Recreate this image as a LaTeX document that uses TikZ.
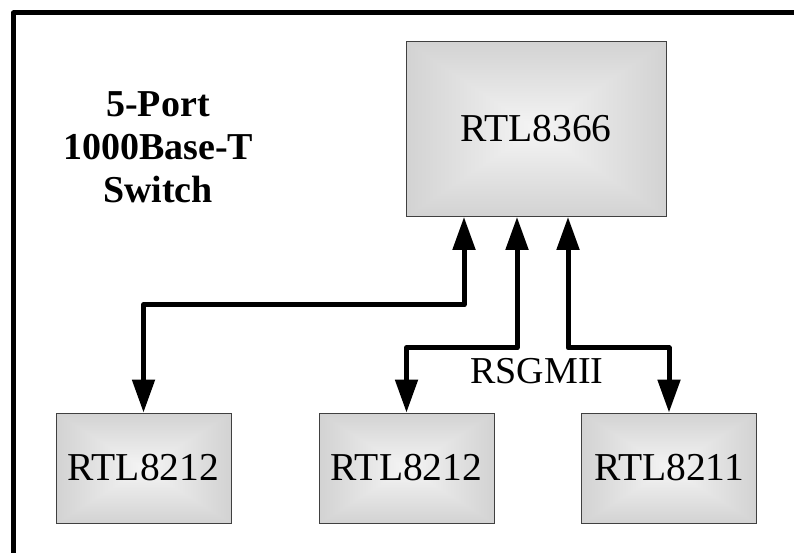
\documentclass[tikz,border=0pt]{standalone}
\usepackage{fontspec}
\setmainfont{Liberation Serif}
\usepackage{tikz}
\usetikzlibrary{arrows.meta, calc, positioning}

% light centre, grey rim, like a pillow
\pgfdeclarefunctionalshading{chipshade}{\pgfpoint{-50bp}{-50bp}}{\pgfpoint{50bp}{50bp}}{}{
  abs exch abs 2 copy lt {exch} if pop 50 div
  -0.27 mul 0.96 add dup dup
}

\tikzset{
  chip/.style={draw=black!75, line width=0.8pt, shading=chipshade, inner sep=0,
    font=\fontsize{39.5}{40}\selectfont},
  phy/.style={chip, minimum width=175pt, minimum height=110pt},
  link/.style={line width=5pt, line join=round,
    {Triangle[width=22pt,length=33pt]}-{Triangle[width=22pt,length=33pt]}},
}

\begin{document}
\begin{tikzpicture}[x=1pt, y=-1pt]
      \useasboundingbox (0,0) rectangle (794,553);
      \draw [line width=5pt, line join=round] (13.5,560) -- (13.5,13) -- (800,13);

      \node [font=\bfseries\fontsize{38}{43}\selectfont, align=center] (title) at (158,147)
        {5-Port\\1000Base-T\\Switch};

      \node [chip, minimum width=260pt, minimum height=175pt] (switch) at (536,129) {RTL8366};

      \node [phy] (phyA) at (143.5,468) {RTL8212};
      \node [phy] (phyB) at (406.5,468) {RTL8212};
      \node [phy] (phyC) at (669,468) {RTL8211};

      \draw [link] ([xshift=-72pt]switch.south) -- ++(0,88) -| (phyA.north);
      \draw [link] ([xshift=-19pt]switch.south) -- ++(0,131) -| (phyB.north);
      \draw [link] ([xshift=32pt]switch.south) -- ++(0,131) -| (phyC.north);

      \node [font=\fontsize{38}{40}\selectfont] (bus) at (537,371) {RSGMII};
    \end{tikzpicture}
\end{document}
